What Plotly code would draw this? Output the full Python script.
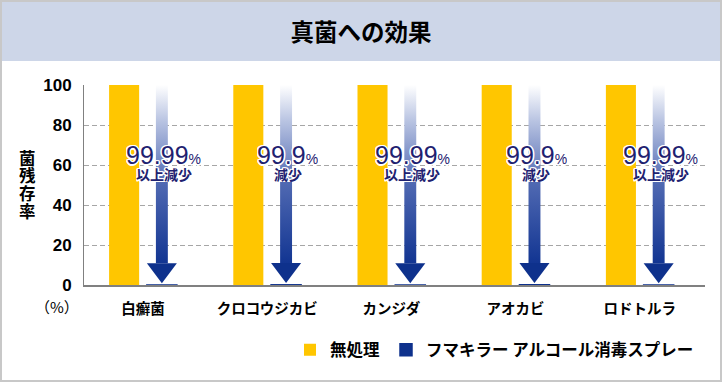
import plotly.graph_objects as go

# ---------------- data ----------------
categories = ["白癬菌", "クロコウジカビ", "カンジダ", "アオカビ", "ロドトルラ"]
untreated = [100, 100, 100, 100, 100]            # 無処理 菌残存率 (%)
treated = [0.01, 0.1, 0.01, 0.1, 0.01]           # スプレー 菌残存率 (%)
reduction_labels = ["99.99", "99.9", "99.99", "99.9", "99.99"]
reduction_suffix = ["以上減少", "減少", "以上減少", "減少", "以上減少"]
y_ticks = [0, 20, 40, 60, 80, 100]
series_names = ["無処理", "フマキラー アルコール消毒スプレー"]
title_text = "真菌への効果"
y_title_chars = ["菌", "残", "存", "率"]
unit_text = "（%）"

# ---------------- style / layout ----------------
W, H = 722, 382
L, R, T, B = 84, 17, 85, 97
PW, PH = W - L - R, H - T - B
YELLOW = "#FFC600"
BLUE = "#0E318C"
NAVY = "#1E2170"
JP = "Noto Sans CJK JP"
NUM = "Liberation Sans, Arial"
HALO = ("1px 1px 0 #fff, -1px -1px 0 #fff, 1px -1px 0 #fff, -1px 1px 0 #fff, "
        "0 1.5px 0 #fff, 0 -1.5px 0 #fff, 1.5px 0 0 #fff, -1.5px 0 0 #fff")

def px_x(p):
    return (p - L) / PW

def px_y(p):
    return (H - B - p) / PH

idx = list(range(len(categories)))
BAR_W = 0.242
OFF_Y = -0.273
OFF_B = 0.031
fig = go.Figure()

fig.add_trace(go.Bar(
    x=idx, y=untreated, name=series_names[0], offset=OFF_Y, width=BAR_W,
    marker=dict(color=YELLOW, line=dict(width=0)), hoverinfo="skip",
    legend="legend"))
fig.add_trace(go.Bar(
    x=idx, y=treated, name=series_names[1], offset=OFF_B, width=BAR_W,
    marker=dict(color=BLUE, line=dict(color=BLUE, width=1.5)), hoverinfo="skip",
    legend="legend2"))

# decorative arrows: from the untreated level down to the treated level
SHAFT_HW = 0.048
HEAD_HW = 0.121
HEAD_LEN = 10
for i, (u, t) in enumerate(zip(untreated, treated)):
    cx = i + OFF_B + BAR_W / 2
    tip = t + 0.9
    head_top = tip + HEAD_LEN
    fig.add_trace(go.Scatter(
        x=[cx - SHAFT_HW, cx + SHAFT_HW, cx + SHAFT_HW, cx - SHAFT_HW, cx - SHAFT_HW],
        y=[head_top, head_top, u, u, head_top],
        mode="lines", line=dict(width=0), fill="toself",
        fillgradient=dict(type="vertical",
                          colorscale=[[0, "#123592"], [0.45, "#5069B2"], [0.8, "#B9C4E2"], [1, "#FFFFFF"]]),
        showlegend=False, hoverinfo="skip"))
    fig.add_trace(go.Scatter(
        x=[cx - HEAD_HW, cx + HEAD_HW, cx, cx - HEAD_HW],
        y=[head_top, head_top, tip, head_top],
        mode="lines", line=dict(width=0), fill="toself", fillcolor=BLUE,
        showlegend=False, hoverinfo="skip"))
    fig.add_annotation(
        x=cx + 0.015, y=65, xref="x", yref="y", showarrow=False,
        text=f"{reduction_labels[i]}<span style='font-size:14px'>%</span>",
        font=dict(family="Liberation Sans, Arial", size=25, color=NAVY, shadow=HALO),
        xanchor="center", yanchor="middle", height=24, valign="middle")
    fig.add_annotation(
        x=cx + 0.015, y=55.5, xref="x", yref="y", showarrow=False,
        text=reduction_suffix[i],
        font=dict(family=JP, size=14, color=NAVY, weight="bold", shadow=HALO),
        xanchor="center", yanchor="middle", height=16, valign="middle")

# y-axis title, stacked vertically
for k, ch in enumerate(y_title_chars):
    fig.add_annotation(
        x=px_x(27.5), y=px_y(157.5 + k * 17.8), xref="paper", yref="paper",
        text=ch, showarrow=False, xanchor="center", yanchor="middle",
        height=17.5, valign="middle",
        font=dict(family=JP, size=16.5, color="#000", weight="bold"))
fig.add_annotation(
    x=px_x(56.5), y=px_y(306), xref="paper", yref="paper", text=unit_text,
    showarrow=False, xanchor="center", yanchor="middle",
    font=dict(family=JP, size=15, color="#000"))

# title band and outer frame
fig.add_shape(type="rect", xref="paper", yref="paper",
              x0=px_x(2), x1=px_x(720), y0=px_y(61), y1=px_y(2),
              fillcolor="#CDD6E8", line=dict(width=0), layer="below")
fig.add_shape(type="rect", xref="paper", yref="paper",
              x0=px_x(1), x1=px_x(721), y0=px_y(381), y1=px_y(1),
              fillcolor="rgba(0,0,0,0)", line=dict(color="#C8C8C8", width=2))

legend_font = dict(family=JP, size=16.5, color="#000", weight="bold")
fig.update_layout(
    width=W, height=H,
    margin=dict(l=L, r=R, t=T, b=B, pad=0),
    paper_bgcolor="white", plot_bgcolor="white",
    barmode="overlay",
    title=dict(text=title_text, x=0.5, xref="container", xanchor="center",
               y=1 - 33 / H, yref="container", yanchor="middle",
               font=dict(family=JP, size=23.5, color="#000", weight="bold")),
    xaxis=dict(range=[-0.475, 4.525], tickvals=idx, ticktext=categories,
               showgrid=False, zeroline=False, showline=True, linecolor="#808080",
               linewidth=1.5, ticks="", ticklabelstandoff=10,
               tickfont=dict(family=JP, size=14.5, color="#000", weight="bold"),
               fixedrange=True),
    yaxis=dict(range=[0, 100], tickvals=y_ticks, showgrid=True, gridcolor="#A6A6A6",
               griddash="5px,3px", gridwidth=1, zeroline=False, showline=True,
               linecolor="#808080", linewidth=1, ticks="", ticklabelstandoff=8,
               tickfont=dict(family=NUM, size=17, color="#000", weight="bold"),
               fixedrange=True),
    legend=dict(orientation="h", x=px_x(290), y=px_y(350), xanchor="left", yanchor="middle",
                font=legend_font, bgcolor="rgba(0,0,0,0)"),
    legend2=dict(orientation="h", x=px_x(386), y=px_y(350), xanchor="left", yanchor="middle",
                 font=legend_font, bgcolor="rgba(0,0,0,0)"),
    showlegend=True,
)

fig.write_html("out.html")
